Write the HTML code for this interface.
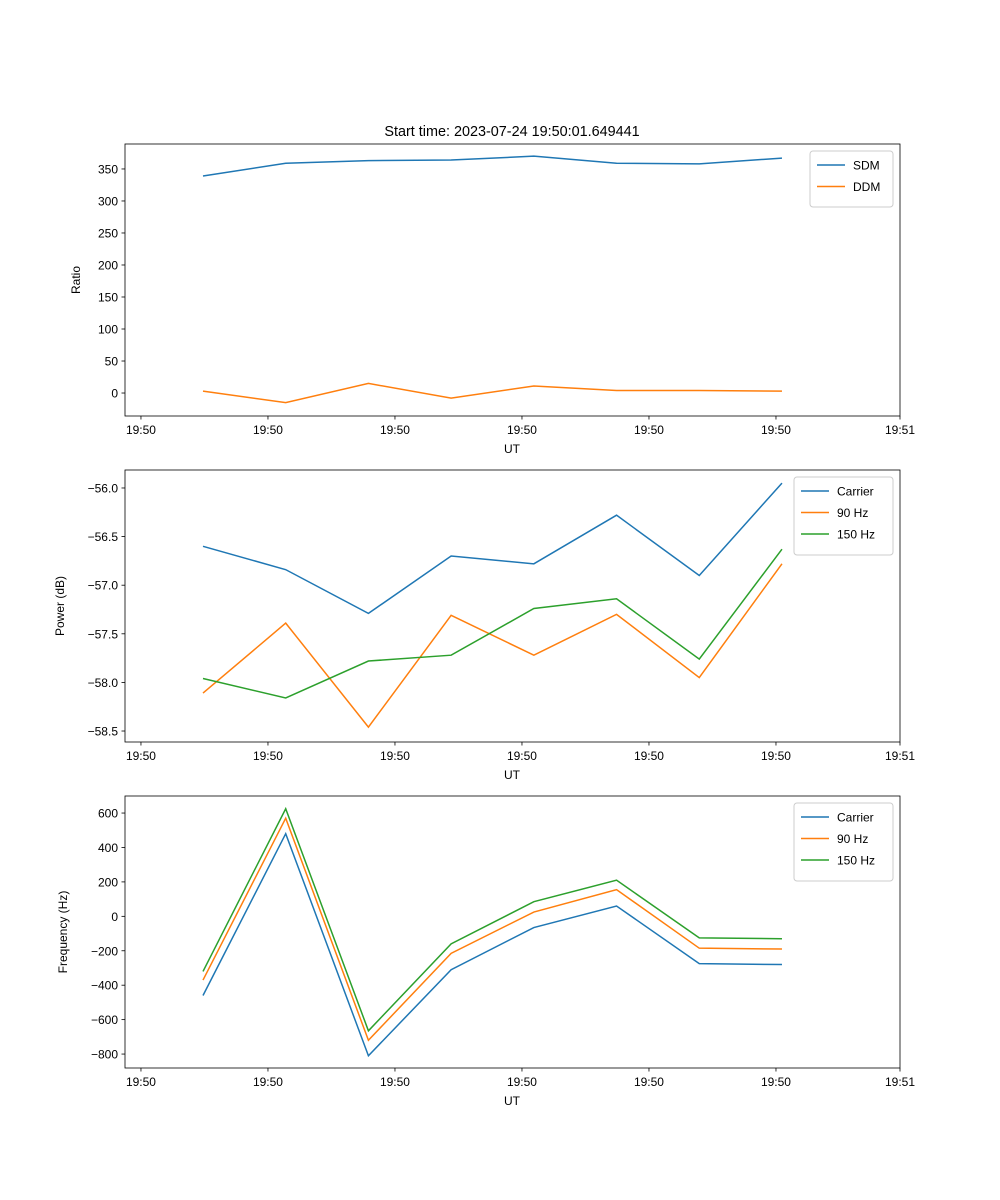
<!DOCTYPE html>
<html><head><meta charset="utf-8"><style>body{margin:0;background:#fff}svg{display:block;font-family:"Liberation Sans","DejaVu Sans",sans-serif}</style></head>
<body><svg id="fig" width="1000" height="1200" xmlns="http://www.w3.org/2000/svg"></svg>
<script>
const xTickPos=[-0.75,0.7855,2.321,3.8565,5.392,6.9275,8.427];
const xTickLabels=["19:50","19:50","19:50","19:50","19:50","19:50","19:51"];
const idx=[0,1,2,3,4,5,6,7];
const sdm=[339,359,363,364,370,359,358,367];
const ddm=[3,-15,15,-8,11,4,4,3];
const pCarrier=[-56.60,-56.84,-57.29,-56.70,-56.78,-56.28,-56.90,-55.95];
const p90=[-58.11,-57.39,-58.46,-57.31,-57.72,-57.30,-57.95,-56.78];
const p150=[-57.96,-58.16,-57.78,-57.72,-57.24,-57.14,-57.76,-56.63];
const fCarrier=[-460,480,-810,-310,-65,60,-275,-280];
const f90=[-370,570,-720,-215,25,155,-185,-190];
const f150=[-320,625,-665,-160,85,210,-125,-130];
const yTicks1=[0,50,100,150,200,250,300,350];
const yTicks2=[-58.5,-58.0,-57.5,-57.0,-56.5,-56.0];
const yTicks3=[-800,-600,-400,-200,0,200,400,600];
const C=["#1f77b4","#ff7f0e","#2ca02c"];
const svg=document.getElementById('fig');const NS="http://www.w3.org/2000/svg";
function mk(t,a,p){const e=document.createElementNS(NS,t);for(const k in a)e.setAttribute(k,a[k]);(p||svg).appendChild(e);return e;}
const L=125,R=900,xmin=-0.943,xmax=8.427;
const X=v=>L+(v-xmin)/(xmax-xmin)*(R-L);
function panel(name,top,bot,ymin,ymax,yt,fmt,ylabel,series,names,legW){
 const g=mk('g',{});
 const Y=v=>bot-(v-ymin)/(ymax-ymin)*(bot-top);
 series.forEach((s,i)=>{const pl=mk('polyline',{points:idx.map((x,j)=>X(x)+','+Y(s[j])).join(' '),fill:'none',stroke:C[i],'stroke-width':1.5},g);
  });
 const fr=mk('rect',{x:L,y:top,width:R-L,height:bot-top,fill:'none',stroke:'#000','stroke-width':0.8},g);
 
 xTickPos.forEach((t,i)=>{const x=X(t);mk('line',{x1:x,x2:x,y1:bot,y2:bot+3.5,stroke:'#000','stroke-width':0.8},g);
  const tx=mk('text',{x:x,y:bot+18,'font-size':12,'text-anchor':'middle'},g);tx.textContent=xTickLabels[i];
  });
 yt.forEach(t=>{const y=Y(t);mk('line',{x1:L-3.5,x2:L,y1:y,y2:y,stroke:'#000','stroke-width':0.8},g);
  const tx=mk('text',{x:L-7,y:y+4.5,'font-size':12,'text-anchor':'end'},g);tx.textContent=fmt(t);
  });
 const xl=mk('text',{x:512,y:bot+37,'font-size':12,'text-anchor':'middle'},g);xl.textContent='UT';
 
 const yl=mk('text',{x:0,y:0,'font-size':12,'text-anchor':'middle',transform:`translate(${ylabel[1]},${(top+bot)/2}) rotate(-90)`},g);yl.textContent=ylabel[0];
 
 const lg=mk('g',{},g);
 const lx=R-7-legW,ly=top+7,lh=12+names.length*22;
 mk('rect',{x:lx,y:ly,width:legW,height:lh,rx:3,fill:'#fff','fill-opacity':0.8,stroke:'#ccc'},lg);
 names.forEach((n,i)=>{const yy=ly+14+i*21.5;mk('line',{x1:lx+7,x2:lx+35,y1:yy,y2:yy,stroke:C[i],'stroke-width':1.5},lg);
  const t=mk('text',{x:lx+43,y:yy+4.5,'font-size':12},lg);t.textContent=n;});
}
const ttl=mk('text',{x:512,y:136,'font-size':14.4,'text-anchor':'middle'});ttl.textContent='Start time: 2023-07-24 19:50:01.649441';

panel('ratio-panel',144,416,-35.9,389,yTicks1,v=>String(v),['Ratio',80],[sdm,ddm],['SDM','DDM'],83);
panel('power-panel',470,742,-58.613,-55.815,yTicks2,v=>v.toFixed(1).replace('-','−'),['Power (dB)',64],[pCarrier,p90,p150],['Carrier','90 Hz','150 Hz'],99);
panel('frequency-panel',796,1068,-881,699,yTicks3,v=>String(v).replace('-','−'),['Frequency (Hz)',67],[fCarrier,f90,f150],['Carrier','90 Hz','150 Hz'],99);
</script></body></html>
